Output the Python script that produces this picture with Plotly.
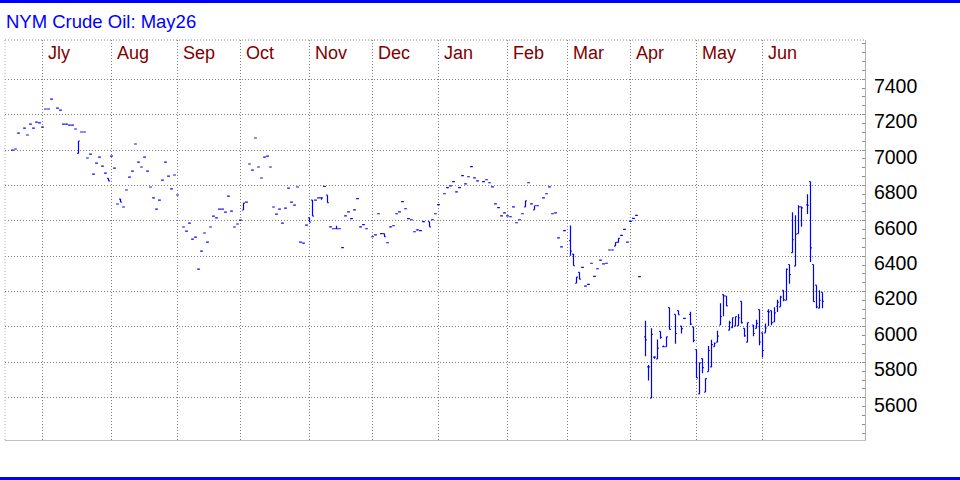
import math
import pandas as pd
import plotly.graph_objects as go
from pandas.tseries.offsets import BDay

# ---------------- data ----------------
# trading-day calendar (weekdays) 17 Jun 2024 .. 30 Jun 2025
dates = pd.bdate_range("2024-06-17", "2025-06-30")

month_labels = ["Jly", "Aug", "Sep", "Oct", "Nov", "Dec", "Jan", "Feb", "Mar", "Apr", "May", "Jun"]
month_starts = ["2024-07-01", "2024-08-01", "2024-09-02", "2024-10-01", "2024-11-01", "2024-12-02",
                "2025-01-01", "2025-02-03", "2025-03-03", "2025-04-01", "2025-05-01", "2025-06-02"]
price_ticks = [5600, 5800, 6000, 6200, 6400, 6600, 6800, 7000, 7200, 7400]
N = None

open_ = [
    7000, 7006, 7096, N, 7124, 7085, 7147, 7124, 7158, 7153,
    7130, 7232, 7232, 7288, N, 7237, 7226, 7147, 7147, 7141,
    7141, 7119, 6981, 7102, 7102, 6955, 6977, 6864, 6926, 6960,
    6909, 6870, 6840, 6966, 6898, 6695, 6723, 6678, 6774, 6847,
    6881, 7034, 6932, 6904, 6960, 6881, 6791, 6730, 6666, 6717,
    6830, 6932, 6853, 6780, 6859, 6746, N, 6565, 6542, 6587,
    6497, 6508, 6327, 6429, 6531, 6480, 6565, 6627, 6616, 6666,
    6666, 6649, 6740, 6655, 6565, 6582, 6604, 6661, 6706, 6921,
    6887, 7068, 6904, 6842, 6960, 6966, 6904, 6678, 6638, 6666,
    6587, 6672, 6785, 6706, 6689, 6791, 6480, 6474, 6576, 6616,
    6717, 6717, 6730, 6730, 6794, 6745, 6566, 6555, 6555, 6555,
    6448, 6628, 6651, 6612, 6662, 6725, 6566, 6578, 6555, N,
    6510, 6521, 6640, 6527, 6527, 6476, 6566, 6572, 6640, 6651,
    6708, 6668, 6612, 6606, 6538, 6549, 6544, 6595, N, 6595,
    6606, 6640, 6691, N, 6753, 6787, 6798, 6821, 6764, 6787,
    6855, 6809, 6849, 6906, 6843, 6826, N, 6821, 6832, 6815,
    6792, 6696, 6674, 6628, 6645, 6628, 6623, 6679, 6589, 6606,
    6640, 6679, 6815, 6696, 6662, 6685, N, 6730, 6753, 6792,
    6640, 6645, 6504, 6453, 6544, N, 6488, 6412, 6247, 6309,
    6337, 6231, 6241, 6360, 6286, 6329, 6378, 6356, 6360, 6435,
    6435, 6457, 6478, 6518, 6552, 6479, 6597, 6614, 6631, 6284,
    N, 5944, 5774, 5598, 5830, 5819, 5975, 5888, 5888, 6109,
    N, 6071, 6092, 6005, 6049, N, 6071, 6001, 5871, 5621,
    5821, 5632, 5748, 5774, 5888, 5914, 6011, 6183, 6175, 5982,
    5996, 6005, 6007, 6145, 5992, 5914, N, 6011, 5992, 6098,
    5967, 5967, 6088, 6092, 6028, 6117, 6114, 6207, 6151, 6353,
    6420, 6344, 6528, 6679, N, 6690, 6821, 6353, 6236, 6106,
    6195, 6162,
]
high = [
    7000, 7006, 7096, N, 7124, 7085, 7147, 7124, 7158, 7153,
    7130, 7232, 7232, 7288, N, 7237, 7226, 7147, 7147, 7141,
    7141, 7119, 7051, 7102, 7102, 6955, 6977, 6864, 6926, 6960,
    6909, 6870, 6840, 6966, 6898, 6695, 6723, 6678, 6774, 6847,
    6881, 7034, 6932, 6904, 6960, 6881, 6791, 6730, 6666, 6717,
    6830, 6932, 6853, 6780, 6859, 6746, N, 6565, 6542, 6587,
    6497, 6508, 6327, 6429, 6531, 6480, 6565, 6627, 6616, 6666,
    6666, 6649, 6740, 6655, 6565, 6582, 6604, 6700, 6706, 6921,
    6887, 7068, 6904, 6842, 6960, 6966, 6904, 6678, 6638, 6666,
    6587, 6672, 6785, 6706, 6689, 6791, 6480, 6474, 6576, 6616,
    6717, 6717, 6730, 6730, 6794, 6745, 6566, 6555, 6572, 6555,
    6448, 6628, 6651, 6612, 6662, 6725, 6566, 6578, 6555, N,
    6510, 6521, 6640, 6527, 6527, 6476, 6566, 6572, 6640, 6651,
    6708, 6668, 6612, 6606, 6538, 6549, 6544, 6595, N, 6595,
    6606, 6640, 6691, N, 6753, 6787, 6798, 6821, 6764, 6787,
    6855, 6809, 6849, 6906, 6843, 6826, N, 6821, 6832, 6815,
    6792, 6696, 6674, 6628, 6645, 6628, 6623, 6679, 6589, 6606,
    6640, 6713, 6815, 6696, 6685, 6685, N, 6730, 6753, 6792,
    6640, 6645, 6504, 6453, 6544, N, 6574, 6412, 6282, 6309,
    6337, 6231, 6241, 6360, 6286, 6329, 6378, 6356, 6360, 6435,
    6435, 6478, 6501, 6518, 6552, 6479, 6597, 6614, 6631, 6284,
    N, 6035, 5785, 5992, 5835, 5929, 5975, 5895, 5944, 6109,
    N, 6071, 6092, 6005, 6049, N, 6086, 6001, 5871, 5797,
    5821, 5708, 5893, 5927, 5912, 5979, 6134, 6183, 6175, 6035,
    6052, 6058, 6073, 6145, 5992, 6024, N, 6011, 6041, 6098,
    5967, 6020, 6100, 6092, 6111, 6154, 6177, 6207, 6331, 6353,
    6649, 6631, 6688, 6679, N, 6750, 6821, 6353, 6236, 6207,
    6195, 6162,
]
low = [
    7000, 7006, 7096, N, 7124, 7085, 7147, 7124, 7158, 7153,
    7130, 7232, 7232, 7288, N, 7237, 7226, 7147, 7147, 7141,
    7141, 7119, 6981, 7102, 7102, 6955, 6977, 6864, 6926, 6960,
    6909, 6870, 6826, 6966, 6898, 6695, 6706, 6678, 6774, 6847,
    6881, 7034, 6932, 6904, 6960, 6881, 6791, 6730, 6666, 6717,
    6830, 6932, 6853, 6780, 6859, 6746, N, 6565, 6542, 6587,
    6497, 6508, 6327, 6429, 6531, 6480, 6565, 6627, 6616, 6666,
    6666, 6649, 6740, 6655, 6565, 6582, 6604, 6661, 6706, 6921,
    6887, 7068, 6904, 6842, 6960, 6966, 6904, 6678, 6638, 6666,
    6587, 6672, 6785, 6706, 6689, 6791, 6480, 6474, 6576, 6593,
    6627, 6717, 6730, 6719, 6794, 6702, 6566, 6555, 6555, 6555,
    6448, 6628, 6651, 6612, 6662, 6725, 6566, 6578, 6555, N,
    6510, 6521, 6640, 6527, 6510, 6476, 6566, 6572, 6640, 6651,
    6708, 6668, 6612, 6606, 6538, 6549, 6544, 6595, N, 6566,
    6606, 6640, 6691, N, 6753, 6787, 6798, 6821, 6764, 6787,
    6855, 6809, 6849, 6906, 6843, 6826, N, 6821, 6832, 6815,
    6792, 6696, 6674, 6628, 6645, 6628, 6623, 6679, 6589, 6606,
    6640, 6679, 6815, 6696, 6662, 6685, N, 6730, 6753, 6792,
    6640, 6645, 6504, 6453, 6544, N, 6403, 6346, 6247, 6270,
    6337, 6231, 6241, 6360, 6286, 6329, 6378, 6356, 6360, 6435,
    6435, 6457, 6478, 6518, 6552, 6479, 6597, 6614, 6631, 6284,
    N, 5835, 5698, 5598, 5820, 5819, 5933, 5885, 5888, 5986,
    N, 5905, 6069, 5963, 6049, N, 6011, 5914, 5712, 5621,
    5738, 5632, 5748, 5772, 5888, 5914, 6011, 6060, 6119, 5982,
    5996, 6005, 6007, 6020, 5944, 5914, N, 5948, 5992, 5897,
    5827, 5967, 6005, 6009, 6028, 6084, 6114, 6145, 6151, 6244,
    6420, 6344, 6528, 6567, N, 6638, 6367, 6143, 6106, 6106,
    6106, 6112,
]
close = [
    7000, 7006, 7096, N, 7124, 7085, 7147, 7124, 7158, 7153,
    7130, 7232, 7232, 7288, N, 7237, 7226, 7147, 7147, 7141,
    7141, 7119, 7051, 7102, 7102, 6955, 6977, 6864, 6926, 6960,
    6909, 6870, 6826, 6966, 6898, 6695, 6706, 6678, 6774, 6847,
    6881, 7034, 6932, 6904, 6960, 6881, 6791, 6730, 6666, 6717,
    6830, 6932, 6853, 6780, 6859, 6746, N, 6565, 6542, 6587,
    6497, 6508, 6327, 6429, 6531, 6480, 6565, 6627, 6616, 6666,
    6666, 6649, 6740, 6655, 6565, 6582, 6604, 6700, 6706, 6921,
    6887, 7068, 6904, 6842, 6960, 6966, 6904, 6678, 6638, 6666,
    6587, 6672, 6785, 6706, 6689, 6791, 6480, 6474, 6576, 6593,
    6627, 6717, 6730, 6730, 6794, 6702, 6566, 6555, 6555, 6555,
    6448, 6628, 6651, 6612, 6662, 6725, 6566, 6578, 6555, N,
    6510, 6521, 6640, 6527, 6510, 6476, 6566, 6572, 6640, 6651,
    6708, 6668, 6612, 6606, 6538, 6549, 6544, 6595, N, 6566,
    6606, 6640, 6691, N, 6753, 6787, 6798, 6821, 6764, 6787,
    6855, 6809, 6849, 6906, 6843, 6826, N, 6821, 6832, 6815,
    6792, 6696, 6674, 6628, 6645, 6628, 6623, 6679, 6589, 6606,
    6640, 6713, 6815, 6696, 6685, 6685, N, 6730, 6753, 6792,
    6640, 6645, 6504, 6453, 6544, N, 6429, 6346, 6282, 6270,
    6337, 6231, 6241, 6360, 6286, 6329, 6378, 6356, 6360, 6435,
    6435, 6478, 6501, 6518, 6552, 6479, 6597, 6614, 6631, 6284,
    N, 5927, 5774, 5958, 5829, 5880, 5941, 5888, 5944, 5986,
    N, 5963, 6069, 5990, 6049, N, 6016, 5924, 5712, 5797,
    5770, 5708, 5867, 5900, 5908, 5948, 6058, 6176, 6119, 6024,
    6052, 6058, 6052, 6024, 5950, 6024, N, 5963, 6020, 5915,
    5867, 5994, 6085, 6024, 6080, 6140, 6169, 6153, 6326, 6296,
    6493, 6525, 6679, 6673, N, 6688, 6447, 6143, 6113, 6151,
    6145, 6134,
]

# ---------------- layout geometry ----------------
W, H = 960, 480
ML, MR, MT, MB = 5, 95, 40, 40
PW, PH = W - ML - MR, H - MT - MB
JUL1_PX = 42.5          # pixel of the July gridline
PX_PER_DAY = 3.0


def px_x(px):
    return (px - ML) / PW


def px_y(py):
    return 1 - (py - MT) / PH


def day_to_date(v):
    n = math.floor(v)
    return pd.Timestamp("2024-07-01") + BDay(n) + pd.Timedelta(days=v - n)


x_range = [day_to_date((ML - JUL1_PX) / PX_PER_DAY), day_to_date((W - MR - JUL1_PX) / PX_PER_DAY)]
y_range = [5361, 7622]

BLUE = "#0000FF"
GRID = "#808080"
DOT = "1px,2px"
FONT = "Arial, 'Liberation Sans', sans-serif"

fig = go.Figure(go.Ohlc(
    x=dates, open=open_, high=high, low=low, close=close,
    increasing=dict(line=dict(color=BLUE, width=1.2)),
    decreasing=dict(line=dict(color=BLUE, width=1.2)),
    tickwidth=0.45, hoverinfo="skip",
))

annotations = [
    dict(x=m, y=1, xref="x", yref="paper", text=t, showarrow=False,
         xanchor="left", yanchor="middle", xshift=3, yshift=-13,
         font=dict(size=18, color="#800000", family=FONT))
    for m, t in zip(month_starts, month_labels)
]

shapes = [
    dict(type="rect", xref="paper", yref="paper", x0=px_x(0), x1=px_x(W), y0=px_y(0), y1=px_y(3),
         fillcolor=BLUE, line=dict(width=0)),
    dict(type="rect", xref="paper", yref="paper", x0=px_x(0), x1=px_x(W), y0=px_y(477), y1=px_y(480),
         fillcolor=BLUE, line=dict(width=0)),
    dict(type="line", xref="paper", yref="paper", x0=0, x1=1, y0=1, y1=1,
         line=dict(color=GRID, width=1, dash=DOT)),
    dict(type="line", xref="paper", yref="paper", x0=0, x1=0, y0=0, y1=1,
         line=dict(color="#b0b0b0", width=1, dash=DOT)),
]

fig.update_layout(
    width=W, height=H,
    margin=dict(l=ML, r=MR, t=MT, b=MB),
    paper_bgcolor="white", plot_bgcolor="white",
    showlegend=False, hovermode=False,
    font=dict(family=FONT, color="black"),
    title=dict(text="NYM Crude Oil: May26", x=6 / W, xref="container", xanchor="left",
               y=1 - 22 / H, yref="container", yanchor="middle",
               font=dict(size=18.5, color=BLUE, family=FONT)),
    annotations=annotations,
    shapes=shapes,
    xaxis=dict(
        type="date", range=x_range, rangeslider=dict(visible=False),
        rangebreaks=[dict(bounds=["sat", "mon"])],
        tickvals=month_starts, showticklabels=False, ticks="",
        showgrid=True, gridcolor=GRID, griddash=DOT, gridwidth=1,
        showline=True, linecolor="#c0c0c0", linewidth=1,
        zeroline=False, fixedrange=True,
    ),
    yaxis=dict(
        side="right", range=y_range, tickvals=price_ticks, tickformat="d",
        showgrid=True, gridcolor=GRID, griddash=DOT, gridwidth=1,
        ticks="inside", ticklen=3, tickcolor="#909090",
        minor=dict(dtick=50, ticks="inside", ticklen=3, tickcolor="#909090", showgrid=False),
        showline=True, linecolor="#b0b0b0", linewidth=1,
        tickfont=dict(size=19.5, color="black", family=FONT),
        ticklabelshift=7, ticklabelstandoff=4,
        zeroline=False, fixedrange=True,
    ),
)

fig.write_html("out.html", config={"displayModeBar": False, "staticPlot": True},
               post_script="document.body.style.margin='0';document.body.style.overflow='hidden';")
